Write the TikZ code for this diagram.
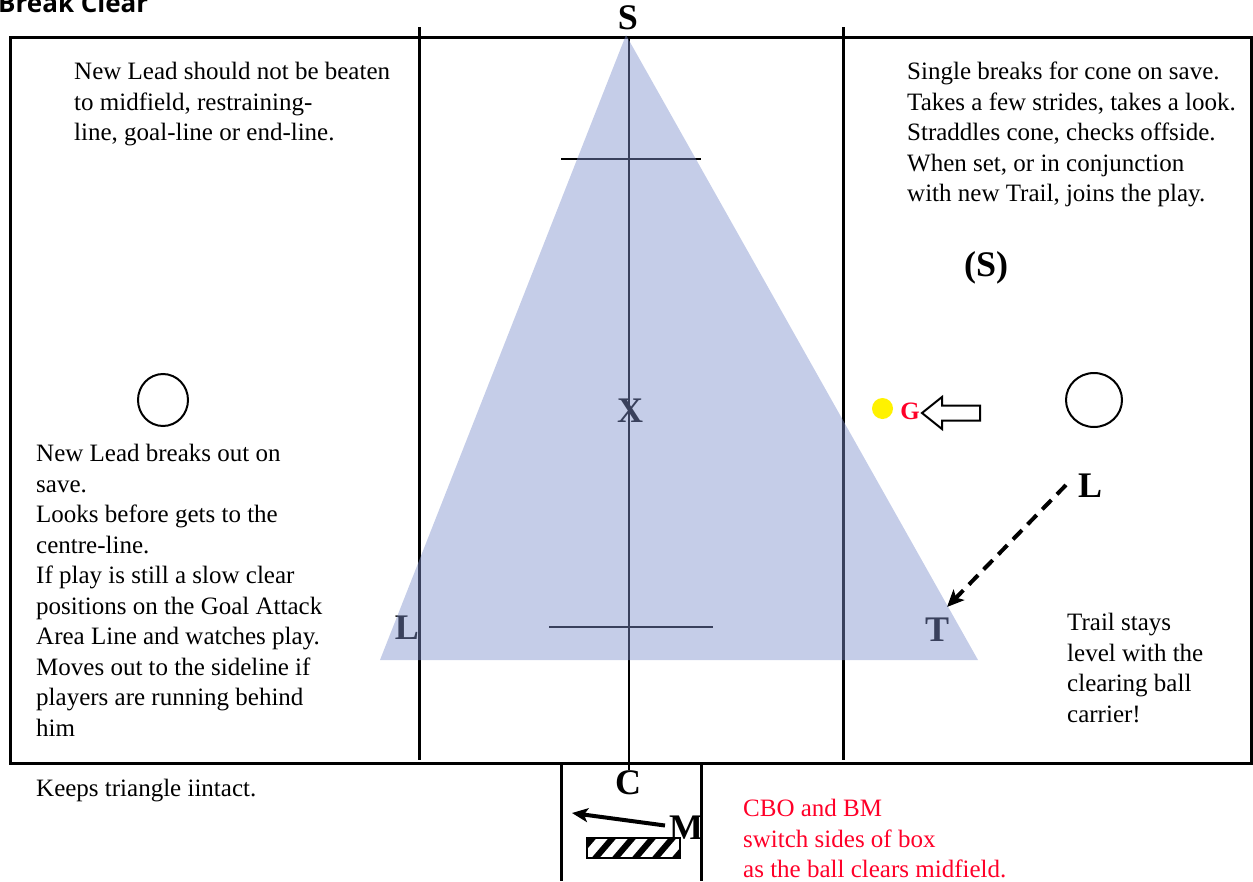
\documentclass[tikz,border=0pt]{standalone}
\usepackage{fontspec}
\setmainfont{Liberation Serif}
\newfontfamily\titlefont{Open Sans}
\usetikzlibrary{arrows.meta}
\definecolor{tri}{RGB}{127,144,204}
\definecolor{redtxt}{RGB}{255,0,40}
\tikzset{
  body/.style={font=\fontsize{25}{30.5}\selectfont, align=left, anchor=north west, inner sep=0pt},
  biglabel/.style={font=\fontsize{36}{40}\selectfont\bfseries, inner sep=0pt},
  field/.style={line width=3pt},
  thin/.style={line width=2pt},
  ring/.style={line width=2pt, draw=black}
}
\begin{document}
\begin{tikzpicture}[x=1pt,y=-1pt]
\useasboundingbox (0,0) rectangle (1253,881);
% title
\node[anchor=base west, inner sep=0pt, font=\titlefont\fontsize{26}{30}\selectfont\bfseries] (title) at (-2,12) {Break Clear};
% field
\draw[field] (10,37) rectangle (1251,763);
\draw[field] (419,27) -- (419,760);
\draw[field] (843,27) -- (843,760);
\draw[thin] (629,37) -- (629,770);
\draw[line width=1.6pt] (561,159) -- (701,159);
\draw[line width=1.6pt] (549,627) -- (713,627);
% box below
\draw[field] (561,763) -- (561,881);
\draw[field] (701,763) -- (701,881);
% circles
\draw[ring] (163,400) ellipse [x radius=25, y radius=26];
\draw[ring] (1094,400) ellipse [x radius=28, y radius=27];
% labels
\node[biglabel] (S) at (628,18) {S};
\node[biglabel] (X) at (630,411) {X};
\node[biglabel] (Ll) at (407,628) {L};
\node[biglabel] (Tn) at (937,630) {T};
\node[biglabel] (C) at (628,783) {C};
\node[biglabel] (M) at (686,828) {M};
\node[biglabel] (Lr) at (1090,486) {L};
\node[biglabel] (Sp) at (986,268) {(S)};
% goalie
\fill[yellow] (882.5,408.5) circle (10.5);
\node[font=\fontsize{25}{28}\selectfont\bfseries, text=redtxt, inner sep=0pt] (G) at (910,411.5) {G};
\draw[line width=2pt, fill=white, line join=miter] (922,413) -- (942,397) -- (942,405.5) -- (980,405.5) -- (980,420.5) -- (942,420.5) -- (942,429) -- cycle;
% dashed arrow
\coordinate (dashS) at (1066,485);
\coordinate (dashE) at (947,607);
\draw[line width=4pt, dash pattern=on 13pt off 8pt, -{Stealth[length=17pt,width=15pt,inset=4pt]}] (dashS) -- (dashE);
% M arrow
\coordinate (mE) at (572,813);
\draw[line width=4pt, -{Stealth[length=16pt,width=14pt,inset=4pt]}] (665,825.5) -- (mE);
% hatched box
\begin{scope}
\clip (587,838) rectangle (680,858);
\foreach \i in {0,...,6} {
  \draw[line width=6pt] ({572+\i*20},862) -- ({596+\i*20},834);
}
\end{scope}
\draw[line width=2.5pt] (587,838) rectangle (680,858);
% triangle overlay
\fill[tri, fill opacity=0.45] (626,35) -- (978,660) -- (380,660) -- cycle;
% texts
\node[body] (t1) at (74,62) {New Lead should not be beaten\\to midfield, restraining-\\line, goal-line or end-line.};
\node[body] (t2) at (907,62) {Single breaks for cone on save.\\Takes a few strides, takes a look.\\Straddles cone, checks offside.\\When set, or in conjunction\\with new Trail, joins the play.};
\node[body] (t3) at (36,444) {New Lead breaks out on\\save.\\Looks before gets to the\\centre-line.\\If play is still a slow clear\\positions on the Goal Attack\\Area Line and watches play.\\Moves out to the sideline if\\players are running behind\\him};
\node[body] (t4) at (1067,613) {Trail stays\\level with the\\clearing ball\\carrier!};
\node[body] (t5) at (36,779) {Keeps triangle iintact.};
\node[body, text=redtxt] (t6) at (743,799) {CBO and BM\\switch sides of box\\as the ball clears midfield.};
\end{tikzpicture}
\end{document}
